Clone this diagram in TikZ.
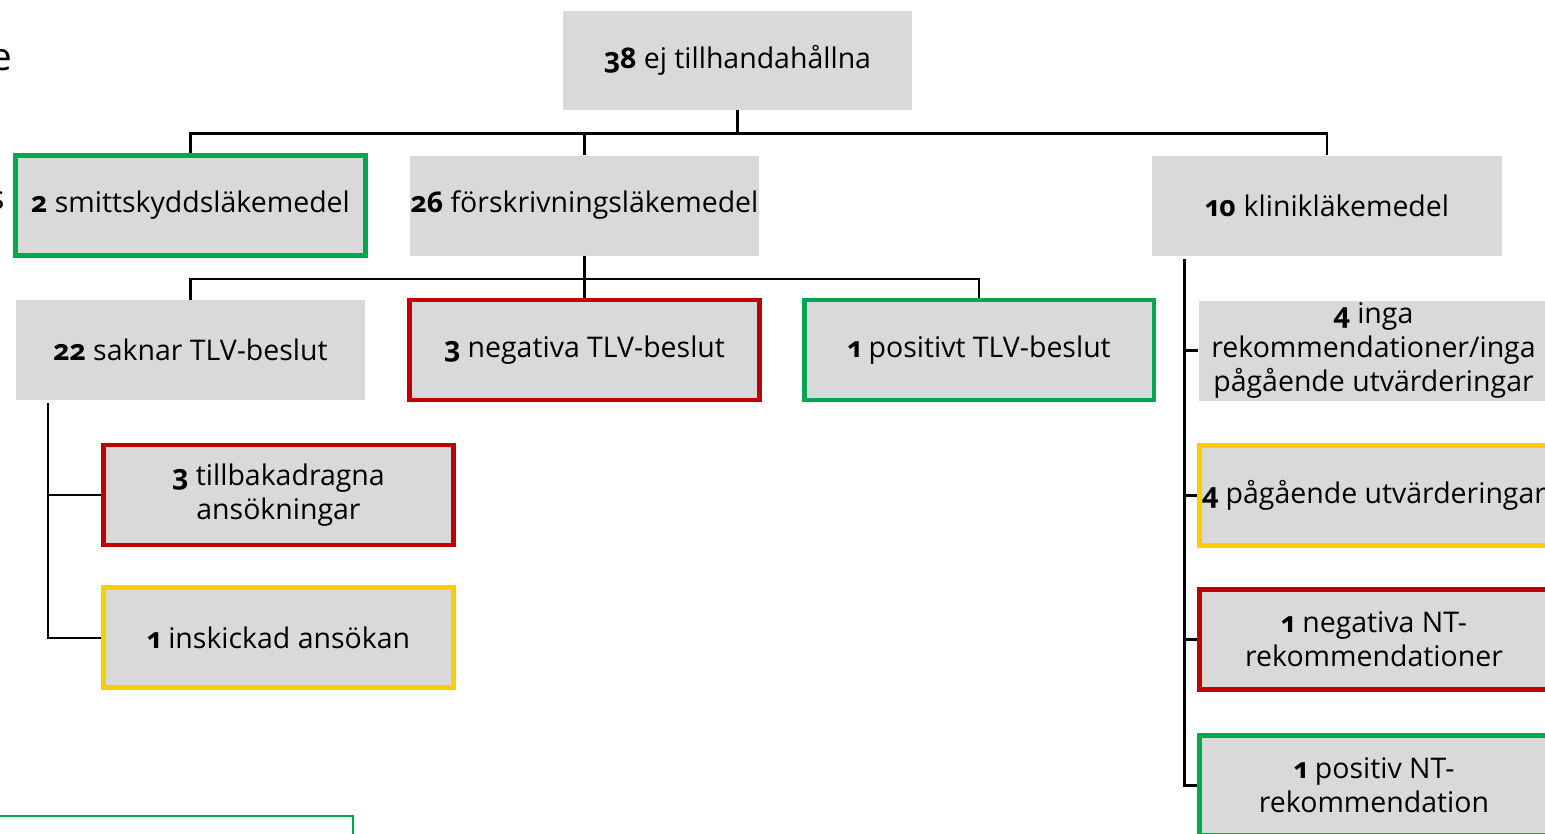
\documentclass[tikz,border=0pt]{standalone}
\usepackage{fontspec}
\setmainfont{Open Sans}[Numbers=OldStyle]
\usetikzlibrary{positioning}

\definecolor{boxgray}{HTML}{D9D9D9}
\definecolor{okgreen}{HTML}{00A650}
\definecolor{badred}{HTML}{C00000}
\definecolor{waityellow}{HTML}{FFCC00}

\begin{document}
\begin{tikzpicture}[x=0.02cm,y=-0.02cm,
    box/.style={fill=boxgray, minimum width=7cm, minimum height=2cm, inner sep=0pt,
        align=center, font=\fontsize{16.2}{19.5}\selectfont},
    okbox/.style={box, draw=okgreen, line width=2.8pt},
    badbox/.style={box, draw=badred, line width=2.8pt},
    waitbox/.style={box, draw=waityellow, line width=2.8pt},
    link/.style={draw, line width=1.4pt}]
    \useasboundingbox (0,0) rectangle (1545,833);

    % top level
    \node(root) [box, minimum width=6.98cm, minimum height=1.98cm] at (737.5,60.5) {\textbf{38} ej tillhandahållna};
    \node(smitt) [okbox] at (190.5,205.5) {\textbf{2} smittskyddsläkemedel};
    \node(forsk) [box] at (584.5,205.5) {\textbf{26} förskrivningsläkemedel};
    \node(klinik) [box] at (1327,205.5) {\textbf{10} klinikläkemedel};

    % förskrivningsläkemedel
    \node(saknar) [box] at (190.5,350) {\textbf{22} saknar TLV-beslut};
    \node(negTLV) [badbox] at (584.5,350) {\textbf{3} negativa TLV-beslut};
    \node(posTLV) [okbox] at (979,350) {\textbf{1} positivt TLV-beslut};
    \node(tillb) [badbox] at (278.5,495) {\textbf{3} tillbakadragna\\ansökningar};
    \node(inskick) [waitbox, below=0.76cm of tillb] {\textbf{1} inskickad ansökan};

    % klinikläkemedel
    \node(inga) [box] at (1373.5,350.5) {\textbf{4} inga\\rekommendationer/inga\\pågående utvärderingar};
    \node(pagaende) [waitbox] at (1374,495.5) {\textbf{4} pågående utvärderingar};
    \node(negNT) [badbox, below=0.78cm of pagaende] {\textbf{1} negativa NT-\\rekommendationer};
    \node(posNT) [okbox, below=0.82cm of negNT] {\textbf{1} positiv NT-\\rekommendation};

    % connectors
    \path[link] (root.south) -- ++(0,23) -| (smitt.north);
    \path[link] (root.south) -- ++(0,23) -| (forsk.north);
    \path[link] (root.south) -- ++(0,23) -| (klinik.north);
    \path[link] (forsk.south) -- ++(0,23) -| (saknar.north);
    \path[link] (forsk.south) -- (negTLV.north);
    \path[link] (forsk.south) -- ++(0,23) -| (posTLV.north);
    \path[link] ([xshift=0.66cm,yshift=-0.06cm]saknar.south west) |- (tillb.west);
    \path[link] ([xshift=0.66cm,yshift=-0.06cm]saknar.south west) |- (inskick.west);
    \path[link] ([xshift=0.66cm,yshift=-0.06cm]klinik.south west) |- (inga.west);
    \path[link] ([xshift=0.66cm,yshift=-0.06cm]klinik.south west) |- (pagaende.west);
    \path[link] ([xshift=0.66cm,yshift=-0.06cm]klinik.south west) |- (negNT.west);
    \path[link] ([xshift=0.66cm,yshift=-0.06cm]klinik.south west) |- (posNT.west);

    % cut-off parts at the edges
    \node(cutE) [anchor=east, inner sep=0pt, font=\fontsize{22}{26}\selectfont] at (13,60) {e};
    \node(cutS) [anchor=east, inner sep=0pt, font=\fontsize{19}{23}\selectfont] at (5,201) {s};
    \draw[okgreen, line width=1pt] (-10,816) rectangle (353,860);
\end{tikzpicture}
\end{document}
